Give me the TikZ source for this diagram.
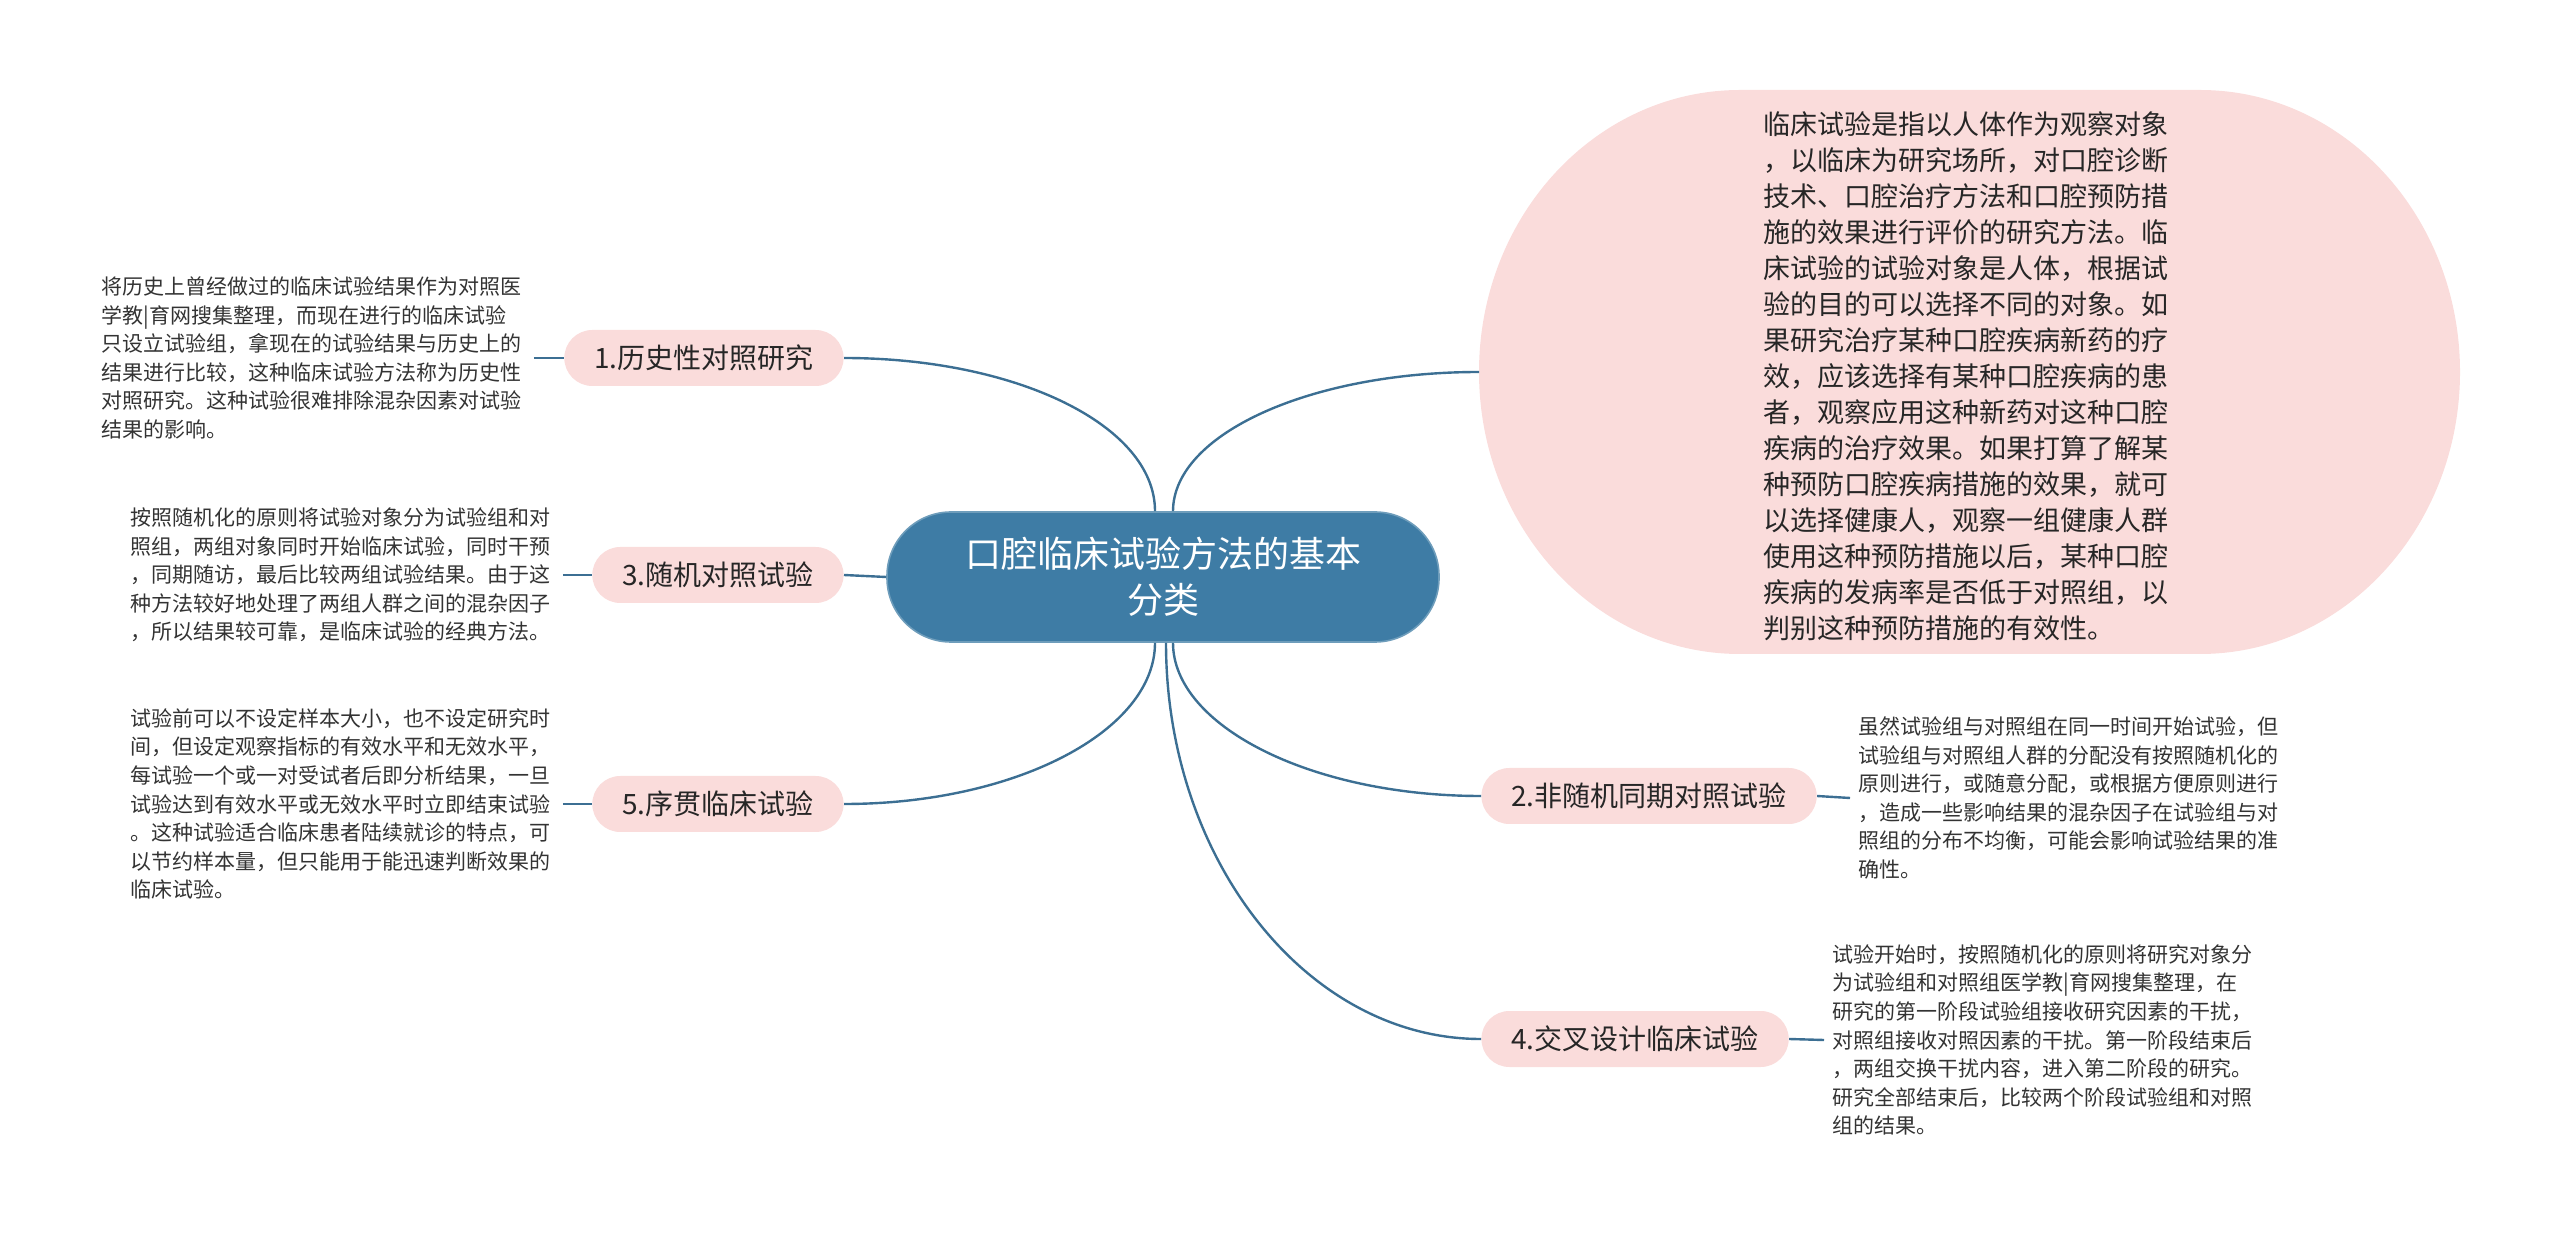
\documentclass[tikz,border=0pt]{standalone}
\usepackage{fontspec}
\setmainfont{Noto Sans CJK SC}
\definecolor{rootblue}{HTML}{3E7CA5}
\definecolor{leafpink}{HTML}{FADCDB}
\definecolor{linkblue}{HTML}{3C6F93}
\definecolor{txtgray}{HTML}{333333}

\begin{document}
\begin{tikzpicture}[x=0.5pt,y=-0.5pt,
  branch/.style={draw=linkblue,line width=1.2pt},
  topic/.style={fill=leafpink,rounded corners=14pt,minimum height=28pt,
    inner xsep=15pt,inner ysep=0pt,text=black!85,
    font=\fontsize{14pt}{17pt}\selectfont},
  note/.style={text width=212pt,align=left,inner xsep=4pt,inner ysep=0pt,
    text=txtgray,font=\fontsize{10.5pt}{14.3pt}\selectfont}]
\useasboundingbox (0,0) rectangle (2560,1234);

% centre
\node[fill=rootblue,draw=rootblue!75!white,line width=0.8pt,rounded corners=32pt,
  minimum width=276pt,minimum height=65pt,text=white,align=center,
  font=\fontsize{18pt}{23pt}\selectfont] (root) at (1163,577)
  {口腔临床试验方法的基本\\分类};

% definition bubble
\fill[leafpink] (1740,90) -- (2200,90)
  arc[start angle=-90,end angle=90,x radius=260,y radius=282] -- (1740,654)
  arc[start angle=90,end angle=270,x radius=261,y radius=282] -- cycle;
\coordinate (defW) at (1479,372);
\node[text width=204pt,align=left,inner sep=0pt,text=black!85,
  font=\fontsize{13.5pt}{18pt}\selectfont] (defnote) at (1967,376)
  {临床试验是指以人体作为观察对象\\
   ，以临床为研究场所，对口腔诊断\\
   技术、口腔治疗方法和口腔预防措\\
   施的效果进行评价的研究方法。临\\
   床试验的试验对象是人体，根据试\\
   验的目的可以选择不同的对象。如\\
   果研究治疗某种口腔疾病新药的疗\\
   效，应该选择有某种口腔疾病的患\\
   者，观察应用这种新药对这种口腔\\
   疾病的治疗效果。如果打算了解某\\
   种预防口腔疾病措施的效果，就可\\
   以选择健康人，观察一组健康人群\\
   使用这种预防措施以后，某种口腔\\
   疾病的发病率是否低于对照组，以\\
   判别这种预防措施的有效性。};

% left branches
\node[topic,anchor=east] (hist) at (844,358) {1.历史性对照研究};
\node[topic,anchor=east] (rand) at (844,575) {3.随机对照试验};
\node[topic,anchor=east] (seq) at (844,804) {5.序贯临床试验};

\node[note,anchor=west] (histnote) at (93,358)
  {将历史上曾经做过的临床试验结果作为对照医\\
   学教|育网搜集整理，而现在进行的临床试验\\
   只设立试验组，拿现在的试验结果与历史上的\\
   结果进行比较，这种临床试验方法称为历史性\\
   对照研究。这种试验很难排除混杂因素对试验\\
   结果的影响。};
\node[note,anchor=west] (randnote) at (122,575)
  {按照随机化的原则将试验对象分为试验组和对\\
   照组，两组对象同时开始临床试验，同时干预\\
   ，同期随访，最后比较两组试验结果。由于这\\
   种方法较好地处理了两组人群之间的混杂因子\\
   ，所以结果较可靠，是临床试验的经典方法。};
\node[note,anchor=west] (seqnote) at (122,804)
  {试验前可以不设定样本大小，也不设定研究时\\
   间，但设定观察指标的有效水平和无效水平，\\
   每试验一个或一对受试者后即分析结果，一旦\\
   试验达到有效水平或无效水平时立即结束试验\\
   。这种试验适合临床患者陆续就诊的特点，可\\
   以节约样本量，但只能用于能迅速判断效果的\\
   临床试验。};

% right branches
\node[topic,anchor=west] (nonrand) at (1481,796) {2.非随机同期对照试验};
\node[topic,anchor=west] (cross) at (1481,1039) {4.交叉设计临床试验};

\node[note,anchor=west] (nonrandnote) at (1850,798)
  {虽然试验组与对照组在同一时间开始试验，但\\
   试验组与对照组人群的分配没有按照随机化的\\
   原则进行，或随意分配，或根据方便原则进行\\
   ，造成一些影响结果的混杂因子在试验组与对\\
   照组的分布不均衡，可能会影响试验结果的准\\
   确性。};
\node[note,anchor=west] (crossnote) at (1824,1040)
  {试验开始时，按照随机化的原则将研究对象分\\
   为试验组和对照组医学教|育网搜集整理，在\\
   研究的第一阶段试验组接收研究因素的干扰，\\
   对照组接收对照因素的干扰。第一阶段结束后\\
   ，两组交换干扰内容，进入第二阶段的研究。\\
   研究全部结束后，比较两个阶段试验组和对照\\
   组的结果。};

% connectors
\draw[branch] (hist.east) .. controls +(172,0) and +(0,-86) .. ([xshift=-4pt]root.north);
\draw[branch] (rand.east) -- (root.west);
\draw[branch] (seq.east) .. controls +(172,0) and +(0,88) .. ([xshift=-4pt]root.south);
\draw[branch] ([xshift=5pt]root.north) .. controls +(0,-77) and +(-169,0) .. (defW);
\draw[branch] ([xshift=5pt]root.south) .. controls +(0,83) and +(-170,0) .. (nonrand.west);
\draw[branch] ([xshift=1.5pt]root.south) .. controls +(0,217) and +(-174,0) .. (cross.west);

\draw[branch] (histnote.east) -- (hist.west);
\draw[branch] (randnote.east) -- (rand.west);
\draw[branch] (seqnote.east) -- (seq.west);
\draw[branch] (nonrand.east) -- (nonrandnote.west);
\draw[branch] (cross.east) -- (crossnote.west);
\end{tikzpicture}
\end{document}
